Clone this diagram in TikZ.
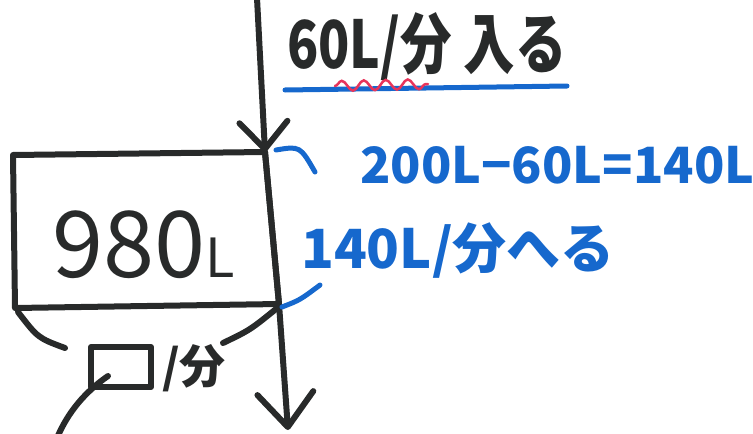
\documentclass[tikz,border=0pt]{standalone}
\usepackage{fontspec}
\setmainfont{Noto Sans CJK JP}
\usetikzlibrary{arrows.meta,decorations.pathmorphing}
\definecolor{ink}{RGB}{40,42,42}
\definecolor{bluepen}{RGB}{22,104,205}
\definecolor{redpen}{RGB}{232,52,90}
\begin{document}
\begin{tikzpicture}[x=1pt,y=-1pt,
  pen/.style={draw=ink,line width=6pt,line cap=round,line join=round},
  bluepenline/.style={draw=bluepen,line width=5pt,line cap=round},
  blacktext/.style={text=ink,inner sep=0pt},
  bluetext/.style={text=bluepen,inner sep=0pt}]
\useasboundingbox (0,0) rectangle (753,434);
% tank corners
\coordinate (A) at (13,155);
\coordinate (B) at (265,152);
\coordinate (C) at (279,304);
\coordinate (D) at (15,308);
\coordinate (in) at (257,-2);
\coordinate (out) at (288,430);
\coordinate (drainstart) at (108,376);
\coordinate (drain) at (57,438);
% tank
\draw[pen] (A) -- (B) -- (C) -- (D) -- cycle;
\node[blacktext,font=\fontsize{92}{92}\selectfont,anchor=base west] (vol) at (52,277) {980{\fontsize{54}{54}\selectfont L}};
% pipe
\draw[pen,-{Straight Barb[length=27pt,width=48pt,round]}] (in) -- (B);
\draw[pen] (B) -- (C);
\draw[pen,-{Straight Barb[length=34pt,width=56pt,round]}] (C) -- (out);
% top label
\node[blacktext,font=\bfseries\fontsize{66}{66}\selectfont,anchor=base west] (inflow) at (287,68) {\scalebox{0.78}[1]{60L/分 入る}};
\draw[bluepenline] (285,90) -- (567,86);
\draw[draw=redpen,line width=2.5pt,line cap=round,decorate,decoration={snake,segment length=22pt,amplitude=5pt}] (335,86) -- (428,84);
% blue labels
\node[bluetext,font=\bfseries\fontsize{50}{50}\selectfont,anchor=base west] (calc) at (360,183) {200L−60L=140L};
\node[bluetext,font=\bfseries\fontsize{54}{54}\selectfont,anchor=base west] (decr) at (301,268) {140L/分へる};
\coordinate (calcend) at (315,172);
\coordinate (decrend) at (320,285);
\draw[bluepenline] (B) ++(11,-2) .. controls (300,146) .. (calcend);
\draw[bluepenline] (C) ++(3,3) .. controls (300,300) .. (decrend);
% outflow label
\draw[pen] (D) ++(3,4) .. controls (38,338) .. (65,348);
\draw[pen] (C) ++(-3,5) .. controls (250,330) .. (223,343);
\node[pen,minimum width=60pt,minimum height=40pt,inner sep=0pt] (blank) at (121,367) {};
\node[blacktext,font=\bfseries\fontsize{46}{46}\selectfont,anchor=base west] (perminute) at (162,383) {/分};
\draw[pen] (drainstart) .. controls (85,392) and (68,412) .. (drain);
\end{tikzpicture}
\end{document}
